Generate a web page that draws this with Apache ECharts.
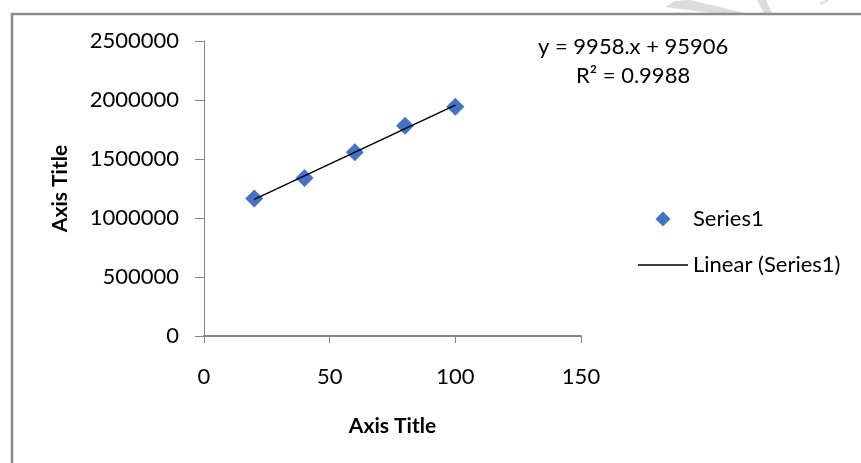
<!DOCTYPE html>
<html>
<head>
<meta charset="utf-8">
<script src="https://cdn.jsdelivr.net/npm/echarts@6/dist/echarts.min.js"></script>
<style>
html,body{margin:0;padding:0;background:#fff;}
#chart{width:861px;height:463px;}
</style>
</head>
<body>
<div id="chart"></div>
<script>
// ---- data ----
var xValues = [20, 40, 60, 80, 100];
var yValues = [1165000, 1340000, 1558000, 1781000, 1942000];
var xTicks = [0, 50, 100, 150];
var yTicks = [0, 500000, 1000000, 1500000, 2000000, 2500000];
var seriesName = 'Series1';
var trendName = 'Linear (Series1)';
var equationText = 'y = 9958.x + 95906';
var r2Text = 'R\u00B2 = 0.9988';
var xTitle = 'Axis Title';
var yTitle = 'Axis Title';

// least-squares trendline from the data
var n = xValues.length, mx = 0, my = 0;
for (var i = 0; i < n; i++) { mx += xValues[i]; my += yValues[i]; }
mx /= n; my /= n;
var sxy = 0, sxx = 0;
for (var i = 0; i < n; i++) { sxy += (xValues[i]-mx)*(yValues[i]-my); sxx += (xValues[i]-mx)*(xValues[i]-mx); }
var slope = sxy / sxx, icpt = my - slope * mx;
var xMin = Math.min.apply(null, xValues), xMax = Math.max.apply(null, xValues);
var trendData = [[xMin, icpt + slope*xMin], [xMax, icpt + slope*xMax]];
var pts = xValues.map(function(x, i){ return [x, yValues[i]]; });

var FONT = 'Lato';
var chart = echarts.init(document.getElementById('chart'));
chart.setOption({
  animation: false,
  backgroundColor: '#ffffff',
  textStyle: { fontFamily: FONT },
  grid: { left: 204, right: 280, top: 41, bottom: 127, containLabel: false },
  xAxis: {
    type: 'value', min: xTicks[0], max: xTicks[xTicks.length-1], interval: xTicks[1]-xTicks[0],
    name: xTitle, nameLocation: 'middle', nameGap: 80,
    nameTextStyle: { fontFamily: FONT, fontSize: 21, fontWeight: 'bold', color: '#000' },
    axisLine: { show: true, lineStyle: { color: '#868686', width: 2 } },
    axisTick: { show: true, length: 7, lineStyle: { color: '#868686', width: 1 } },
    axisLabel: { fontFamily: FONT, fontSize: 22, color: '#000', margin: 30,
      formatter: function(v){ return String(v); } },
    splitLine: { show: false }
  },
  yAxis: {
    type: 'value', min: yTicks[0], max: yTicks[yTicks.length-1], interval: yTicks[1]-yTicks[0],
    name: yTitle, nameLocation: 'middle', nameGap: 133,
    nameTextStyle: { fontFamily: FONT, fontSize: 21, fontWeight: 'bold', color: '#000' },
    axisLine: { show: true, lineStyle: { color: '#868686', width: 1 } },
    axisTick: { show: true, length: 9, lineStyle: { color: '#868686', width: 1 } },
    axisLabel: { fontFamily: FONT, fontSize: 22, color: '#000', margin: 25,
      formatter: function(v){ return String(v); } },
    splitLine: { show: false }
  },
  legend: {
    orient: 'vertical', left: 638, top: 208, padding: 0,
    itemWidth: 50, itemHeight: 15, itemGap: 24, itemTextGap: 5,
    symbolKeepAspect: true,
    textStyle: { fontFamily: FONT, fontSize: 22, color: '#000' },
    data: [
      { name: seriesName, icon: 'path://M0,-1L1,0L0,1L-1,0Z' },
      { name: trendName, icon: 'path://M0,0H50V1.4H0Z' }
    ]
  },
  series: [
    {
      name: seriesName, type: 'scatter', data: pts,
      symbol: 'diamond', symbolSize: 18,
      itemStyle: { color: '#4472C4', opacity: 1 }, z: 2
    },
    {
      name: trendName, type: 'line', data: trendData,
      symbol: 'none', showSymbol: false,
      lineStyle: { color: '#000000', width: 1.5 },
      itemStyle: { color: '#000000' }, z: 3
    }
  ],
  graphic: [
    { type: 'polygon', shape: { points: [[665,7],[675,1],[690,0],[745,13],[712,13]] },
      style: { fill: '#dcdcdc' }, silent: true },
    { type: 'polygon', shape: { points: [[757,0],[766,0],[772,13],[764,13]] },
      style: { fill: '#dcdcdc' }, silent: true },
    { type: 'polyline', shape: { points: [[820,4],[828,0]] },
      style: { stroke: '#dcdcdc', lineWidth: 2, fill: null }, silent: true },
    { type: 'polyline', shape: { points: [[12, 463], [12, 14], [861, 14]] },
      style: { stroke: '#8c8c8c', lineWidth: 2.5, fill: null }, silent: true },
    { type: 'text', left: 538, top: 36,
      style: { text: equationText, font: '22px Lato', fill: '#000' } },
    { type: 'text', left: 576, top: 65,
      style: { text: r2Text, font: '22px Lato', fill: '#000' } }
  ]
});
</script>
</body>
</html>
